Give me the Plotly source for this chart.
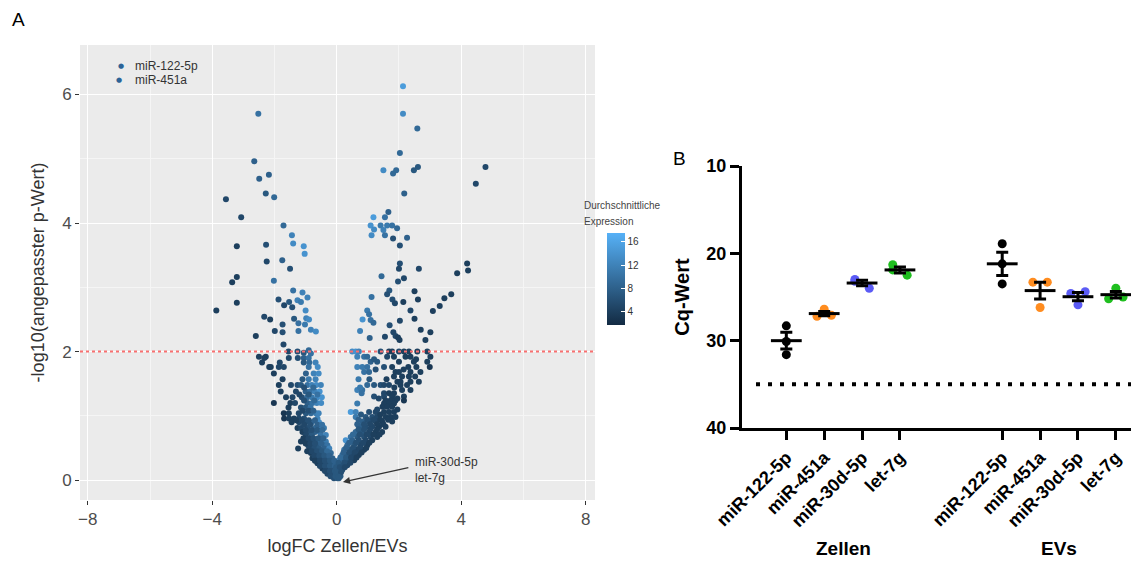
import numpy as np
import plotly.graph_objects as go

# ---------------- Panel A: volcano data ----------------
logfc = [
    # upper points
    2.13, -2.52, 2.13, 2.59, 2.03, -2.65, -2.49, -2.18, -2.28, -2.01, -3.56, -3.07,
    1.50, 1.91, 1.81, 2.48, 2.61, 2.17, 4.47, 4.78, 1.18, 1.55, 1.66,
    1.09, 1.20, 1.41, 1.50, 1.62, 1.78, 1.94, 1.12, 1.55, 1.81, 2.26, 2.03,
    -1.71, -1.44, -1.40, -1.06, -1.03, -2.27, -3.21, -2.25, -1.75, -1.50, -3.21, -3.36, -2.02,
    -3.87, -3.21, -1.40, -1.10, -0.94, -1.87, -1.69, -1.53, -1.43, -1.26, -1.15, -1.00,
    -2.33, -2.14, -1.37, -0.98, -0.89, -1.74, -1.23, -1.02, -1.99, -1.74, -1.23, -0.83, -0.67, -2.60,
    # right middle
    2.03, 2.00, 2.64, 4.19, 4.22, 3.87, 1.44, 1.97, 2.16, 1.69, 1.62, 2.50, 3.68, 3.46, 3.31, 3.09,
    1.12, 1.79, 1.87, 2.14, 2.61, 2.37, 0.98, 1.04, 0.83, 1.09, 1.18, 1.70, 2.03, 2.50,
    0.75, 1.82, 1.89, 1.97, 2.02, 1.55, 1.06, 2.70, 3.01, 2.85,
    # left near threshold
    -2.50, -2.28, -1.71, -1.55, -1.26, -1.06, -0.90, -0.83,
    # left arm rows
    -2.33, -1.54, -1.25, -1.06, -0.90,
    -2.40, -1.83, -1.06, -0.88, -0.68,
    -2.17, -2.12, -1.86, -1.70, -0.90, -0.61,
    -2.02, -0.99, -0.74, -0.58,
    -1.74, -1.10, -0.90, -0.68,
    -1.86, -1.47, -1.26, -1.15, -0.94, -0.80, -0.66, -0.51,
    -1.80, -1.31, -1.00, -0.85, -0.70, -0.55,
    -1.63, -1.42, -1.12, -0.95, -0.80, -0.62, -0.48,
    -2.02, -1.49, -1.34, -0.94, -0.78, -0.64, -0.50,
    -1.55, -1.15, -1.00, -0.84,
    -1.70, -1.54, -1.22, -0.99, -0.83, -0.67, -0.58,
    -1.69, -1.53, -1.37, -1.21, -1.05, -0.62,
    -1.45, -1.21, -1.00, -0.80, -0.57,
    -1.26, -1.15, -0.94, -0.70, -0.51, -0.41,
    -1.10, -0.88, -0.70, -0.55,
    -0.99, -0.80, -0.51, -0.35,
    -1.15, -0.99, -0.83, -0.67, -0.51, -0.35,
    -0.92, -0.78, -0.62, -0.40, -0.30,
    -1.24, -0.88, -0.72, -0.56, -0.40, -0.24,
    -0.83, -0.67, -0.51, -0.35, -0.19,
    -0.78, -0.62, -0.46, -0.30, -0.14,
    -0.62, -0.46, -0.30, -0.14, -0.03,
    -0.46, -0.30, -0.14, 0.02,
    -0.30, -0.14, 0.02,
    -0.09, 0.07,
    # right arm rows
    0.50, 0.61, 0.71, 1.41, 1.68, 1.78, 2.00, 2.16, 2.32, 2.59, 2.91,
    0.66, 0.88, 0.98, 1.62, 1.84, 2.21, 2.37, 3.01,
    1.09, 1.30, 2.00, 2.48, 2.91,
    0.66, 0.82, 0.98, 1.52, 1.78, 2.30, 2.56, 2.99,
    0.88, 1.04, 1.89, 2.00, 2.37, 2.69,
    1.84, 2.10, 2.32, 2.52,
    1.95, 2.05, 2.37, 2.64,
    0.98, 1.20, 1.41, 1.52, 1.68, 2.05, 2.26,
    0.66, 0.82, 2.10, 2.37,
    0.80, 1.52, 1.68, 1.84,
    1.20, 1.52, 1.78, 2.16,
    1.57, 1.73, 1.89, 2.16,
    0.66, 1.52, 1.68, 1.84,
    1.47, 1.62, 1.78,
    0.45, 0.61, 1.04, 1.25, 1.52, 1.68, 1.84,
    0.61, 0.93, 1.14, 1.30, 1.57, 1.73, 1.89,
    0.82, 1.04, 1.25, 1.46, 1.78,
    0.77, 0.93, 1.14, 1.36, 1.57,
    0.61, 0.82, 1.04, 1.25, 1.46,
    0.45, 0.66, 0.88, 1.09, 1.30,
    0.29, 0.50, 0.71, 0.93, 1.14,
    0.34, 0.56, 0.77, 0.98,
    0.24, 0.45, 0.66, 0.88,
    0.18, 0.34, 0.50, 0.71,
    0.07, 0.24, 0.40, 0.56,
    0.02, 0.18, 0.34,
    0.02, 0.18,
    -0.04, 0.08,
    0.02,
    # additional left arm points (filling the dense wedge)
    -1.05, -0.75,
    -1.20, -0.90, -0.62,
    -1.05, -0.72,
    -1.10, -0.90, -0.75,
    -1.30, -1.12, -0.90, -0.70,
    -1.05, -0.85, -0.62, -0.47,
    -1.00, -0.80, -0.62, -0.46,
    -1.07, -0.91, -0.75, -0.59, -0.43,
    -1.00, -0.85, -0.70, -0.50,
    -0.95, -0.80, -0.63, -0.47, -0.31,
    -0.72, -0.56, -0.40, -0.24,
    -0.70, -0.54, -0.38, -0.22, -0.08,
    -0.54, -0.38, -0.22, -0.06,
    -0.38, -0.22, -0.06, 0.08,
    -0.20, -0.04, 0.12,
    # additional right arm points
    0.78, 1.40,
    0.70, 0.98, 1.18, 1.40, 1.65,
    0.66, 0.88, 1.08, 1.30, 1.50,
    0.70, 0.88, 1.08, 1.30,
    0.52, 0.74, 0.96, 1.18, 1.38,
    0.40, 0.62, 0.85, 1.05,
    0.30, 0.52, 0.74, 0.95,
    0.22, 0.40, 0.58, 0.80,
    0.12, 0.30, 0.46, 0.64,
    0.06, 0.24, 0.44,
    -0.02, 0.10, 0.26,
    0.00, 0.14,
    0.06,
    1.30, 1.95,
    1.35, 1.95,
    0.75, 1.85,
    0.70, 1.05, 1.60,
    1.25, 2.15,
    1.20, 2.55,
]

neg_log10_padj = [
    6.13, 5.70, 5.70, 5.47, 5.09, 4.96, 4.69, 4.75, 4.46, 4.40, 4.37, 4.09,
    4.82, 4.82, 4.77, 4.82, 4.87, 4.46, 4.61, 4.87, 4.09, 4.09, 4.17,
    3.96, 3.90, 3.96, 3.89, 3.96, 3.96, 3.92, 3.81, 3.81, 3.76, 3.77, 3.65,
    3.96, 3.81, 3.68, 3.64, 3.52, 3.66, 3.64, 3.40, 3.42, 3.29, 3.16, 3.08, 3.10,
    2.64, 2.76, 2.95, 2.92, 2.84, 2.81, 2.72, 2.77, 2.69, 2.80, 2.77, 2.64,
    2.54, 2.50, 2.51, 2.52, 2.50, 2.42, 2.44, 2.42, 2.32, 2.30, 2.32, 2.34, 2.31, 2.24,
    3.37, 3.29, 3.29, 3.37, 3.26, 3.22, 3.17, 3.09, 3.14, 2.95, 2.89, 2.94, 2.89, 2.83, 2.71, 2.63,
    2.85, 2.81, 2.75, 2.77, 2.81, 2.64, 2.64, 2.58, 2.50, 2.49, 2.45, 2.41, 2.48, 2.51,
    2.32, 2.30, 2.24, 2.22, 2.18, 2.23, 2.21, 2.34, 2.30, 2.18,
    1.92, 1.92, 2.11, 2.00, 2.00, 1.98, 2.02, 1.97,
    1.90, 1.90, 1.90, 1.90, 1.90,
    1.83, 1.83, 1.83, 1.83, 1.83,
    1.76, 1.76, 1.76, 1.76, 1.76, 1.76,
    1.66, 1.66, 1.66, 1.66,
    1.57, 1.57, 1.57, 1.57,
    1.48, 1.48, 1.48, 1.48, 1.48, 1.48, 1.48, 1.48,
    1.38, 1.38, 1.38, 1.38, 1.38, 1.38,
    1.29, 1.29, 1.29, 1.29, 1.29, 1.29, 1.29,
    1.20, 1.20, 1.20, 1.20, 1.20, 1.20, 1.20,
    1.13, 1.13, 1.13, 1.13,
    1.04, 1.04, 1.04, 1.04, 1.04, 1.04, 1.04,
    0.96, 0.96, 0.96, 0.96, 0.96, 0.96,
    0.90, 0.90, 0.90, 0.90, 0.90,
    0.81, 0.81, 0.81, 0.81, 0.81, 0.81,
    0.75, 0.75, 0.75, 0.75,
    0.70, 0.70, 0.70, 0.70,
    0.60, 0.60, 0.60, 0.60, 0.60, 0.60,
    0.54, 0.54, 0.54, 0.54, 0.54,
    0.49, 0.49, 0.49, 0.49, 0.49, 0.49,
    0.42, 0.42, 0.42, 0.42, 0.42,
    0.34, 0.34, 0.34, 0.34, 0.34,
    0.26, 0.26, 0.26, 0.26, 0.26,
    0.18, 0.18, 0.18, 0.18,
    0.10, 0.10, 0.10,
    0.03, 0.03,
    2.00, 2.00, 2.00, 2.00, 2.00, 2.00, 2.00, 2.00, 2.00, 2.00, 2.00,
    1.92, 1.92, 1.92, 1.92, 1.92, 1.92, 1.92, 1.92,
    1.84, 1.84, 1.84, 1.84, 1.84,
    1.76, 1.76, 1.76, 1.76, 1.76, 1.76, 1.76, 1.76,
    1.68, 1.68, 1.68, 1.68, 1.68, 1.68,
    1.61, 1.61, 1.61, 1.61,
    1.53, 1.53, 1.53, 1.53,
    1.48, 1.48, 1.48, 1.48, 1.48, 1.48, 1.48,
    1.40, 1.40, 1.40, 1.40,
    1.35, 1.35, 1.35, 1.35,
    1.30, 1.30, 1.30, 1.30,
    1.24, 1.24, 1.24, 1.24,
    1.19, 1.19, 1.19, 1.19,
    1.14, 1.14, 1.14,
    1.06, 1.06, 1.06, 1.06, 1.06, 1.06, 1.06,
    0.98, 0.98, 0.98, 0.98, 0.98, 0.98, 0.98,
    0.91, 0.91, 0.91, 0.91, 0.91,
    0.83, 0.83, 0.83, 0.83, 0.83,
    0.75, 0.75, 0.75, 0.75, 0.75,
    0.67, 0.67, 0.67, 0.67, 0.67,
    0.62, 0.62, 0.62, 0.62, 0.62,
    0.54, 0.54, 0.54, 0.54,
    0.47, 0.47, 0.47, 0.47,
    0.39, 0.39, 0.39, 0.39,
    0.31, 0.31, 0.31, 0.31,
    0.23, 0.23, 0.23,
    0.16, 0.16,
    0.08, 0.08,
    0.03,
    # additional left
    1.44, 1.44,
    1.33, 1.33, 1.33,
    1.24, 1.24,
    1.08, 1.08, 1.08,
    0.93, 0.93, 0.93, 0.93,
    0.86, 0.86, 0.86, 0.86,
    0.78, 0.78, 0.78, 0.78,
    0.65, 0.65, 0.65, 0.65, 0.65,
    0.57, 0.57, 0.57, 0.57,
    0.45, 0.45, 0.45, 0.45, 0.45,
    0.38, 0.38, 0.38, 0.38,
    0.30, 0.30, 0.30, 0.30, 0.30,
    0.22, 0.22, 0.22, 0.22,
    0.14, 0.14, 0.14, 0.14,
    0.06, 0.06, 0.06,
    # additional right
    1.02, 1.02,
    0.94, 0.94, 0.94, 0.94, 0.94,
    0.87, 0.87, 0.87, 0.87, 0.87,
    0.79, 0.79, 0.79, 0.79,
    0.71, 0.71, 0.71, 0.71, 0.71,
    0.58, 0.58, 0.58, 0.58,
    0.50, 0.50, 0.50, 0.50,
    0.43, 0.43, 0.43, 0.43,
    0.35, 0.35, 0.35, 0.35,
    0.27, 0.27, 0.27,
    0.20, 0.20, 0.20,
    0.12, 0.12,
    0.05,
    1.10, 1.10,
    1.27, 1.27,
    1.44, 1.44,
    1.57, 1.57, 1.57,
    1.72, 1.72,
    1.88, 1.88,
]

avg_expr = [
    15, 10, 13, 9, 9, 8, 8, 8, 7, 9, 5, 5,
    13, 9, 9, 7, 7, 8, 5, 5, 15, 10, 8,
    14, 13, 11, 12, 11, 10, 9, 13, 10, 6, 8, 6,
    9, 12, 13, 14, 14, 6, 4, 5, 8, 6, 4, 4, 10,
    4, 4, 10, 12, 12, 6, 5, 7, 6, 12, 11, 13,
    5, 4, 7, 12, 13, 6, 10, 11, 5, 6, 10, 12, 13, 4,
    6, 5, 5, 4, 4, 4, 9, 6, 5, 7, 6, 4, 4, 4, 4, 4,
    10, 6, 5, 4, 4, 5, 11, 10, 14, 10, 9, 6, 5, 4,
    12, 5, 5, 4, 4, 5, 8, 4, 4, 4,
    4, 4, 5, 5, 6, 7, 9, 10,
    4, 5, 6, 8, 10,
    4, 5, 7, 9, 12,
    4, 4, 5, 5, 10, 13,
    4, 8, 12, 13,
    4, 7, 11, 12,
    4, 5, 6, 7, 10, 12, 13, 12,
    4, 5, 8, 10, 12, 14,
    4, 5, 6, 9, 11, 13, 14,
    3, 4, 5, 8, 10, 12, 13,
    4, 6, 7, 10,
    3, 4, 5, 7, 9, 11, 12,
    3, 4, 4, 5, 6, 12,
    4, 5, 6, 9, 13,
    4, 5, 6, 9, 12, 11,
    4, 6, 8, 10,
    5, 7, 10, 12,
    4, 5, 6, 7, 9, 11,
    5, 6, 7, 9, 10,
    4, 5, 6, 7, 8, 12,
    4, 5, 6, 7, 9,
    4, 5, 6, 7, 8,
    4, 5, 6, 7, 8,
    4, 5, 6, 7,
    5, 6, 7,
    6, 7,
    13, 14, 12, 6, 4, 4, 5, 4, 4, 4, 4,
    12, 10, 9, 5, 4, 4, 4, 4,
    8, 7, 4, 4, 4,
    12, 11, 10, 6, 4, 4, 4, 3,
    10, 9, 4, 4, 4, 4,
    4, 4, 4, 4,
    4, 4, 4, 4,
    9, 7, 6, 5, 5, 4, 4,
    12, 10, 4, 4,
    10, 5, 4, 4,
    6, 5, 4, 4,
    4, 4, 4, 3,
    11, 4, 4, 4,
    4, 4, 4,
    15, 12, 6, 5, 4, 4, 4,
    11, 7, 6, 5, 4, 4, 4,
    8, 6, 5, 4, 4,
    8, 6, 5, 4, 4,
    9, 7, 5, 4, 4,
    10, 7, 6, 5, 4,
    14, 8, 6, 5, 4,
    9, 7, 5, 4,
    10, 7, 5, 4,
    9, 7, 5, 4,
    12, 8, 6, 4,
    8, 7, 5,
    8, 6,
    7, 6,
    7,
    # additional left
    6, 9,
    5, 7, 10,
    6, 9,
    5, 6, 8,
    4, 5, 6, 8,
    5, 6, 8, 10,
    5, 6, 7, 9,
    4, 5, 6, 7, 8,
    4, 5, 6, 8,
    4, 5, 6, 7, 9,
    5, 6, 7, 8,
    4, 5, 6, 7, 8,
    5, 6, 7, 8,
    5, 6, 7, 7,
    6, 7, 7,
    # additional right
    7, 4,
    8, 6, 5, 4, 4,
    8, 6, 5, 4, 4,
    7, 6, 5, 4,
    9, 6, 5, 4, 4,
    8, 6, 5, 4,
    8, 6, 5, 4,
    8, 6, 5, 4,
    9, 7, 5, 4,
    7, 6, 5,
    7, 6, 5,
    7, 6,
    7,
    5, 4,
    5, 4,
    11, 4,
    11, 7, 4,
    6, 4,
    7, 4,
]

legend_labels = ["miR-122-5p", "miR-451a"]
arrow_label = "miR-30d-5p<br>let-7g"
x_ticks_a = [-8, -4, 0, 4, 8]
y_ticks_a = [0, 2, 4, 6]
padj_threshold = 2
cbar_ticks = [4, 8, 12, 16]

# ---------------- Panel B: Cq values ----------------
mirnas = ["miR-122-5p", "miR-451a", "miR-30d-5p", "let-7g"]
groups = ["Zellen", "EVs"]
cq_zellen = [
    [28.3, 30.1, 31.6],
    [27.2, 26.4, 27.1],
    [23.0, 24.0, 23.2],
    [21.3, 22.5, 21.9],
]
cq_evs = [
    [18.9, 21.2, 23.5],
    [23.3, 26.2, 23.3],
    [24.6, 25.9, 24.4],
    [25.2, 24.0, 25.0],
]
detection_limit = 35
y_ticks_b = [10, 20, 30, 40]

mirna_colors = ["#000000", "#FF8C1F", "#5B5BF5", "#1FBF1F"]
group_pos = [[0, 1, 2, 3], [5.7, 6.7, 7.7, 8.7]]
jitter = [[0, 0, 0], [-0.19, 0, 0.19], [-0.19, 0.19, -0.19], [-0.19, 0.19, -0.19]]
jitter_evs = [[0, 0, 0], [-0.19, 0, 0.19], [-0.19, 0, 0.19], [-0.19, 0, 0.19]]

W, H = 1135, 562
FONT = "Liberation Sans, Arial, sans-serif"

fig = go.Figure()

fig.add_trace(go.Scatter(
    x=logfc, y=neg_log10_padj, mode="markers", xaxis="x", yaxis="y",
    showlegend=False, hoverinfo="skip",
    marker=dict(size=6, color=avg_expr, cmin=1.7, cmax=17.5,
                colorscale=[[0, "#132B43"], [1, "#56B1F7"]],
                line=dict(width=0),
                colorbar=dict(x=607 / W, xanchor="left", y=1 - 279 / H, yanchor="middle",
                              len=92, lenmode="pixels", thickness=18, thicknessmode="pixels",
                              tickvals=cbar_ticks, ticks="inside", tickcolor="white", ticklen=4,
                              tickfont=dict(size=10, color="#333333", family=FONT),
                              outlinewidth=0, xpad=0, ypad=0, title=dict(text=""))),
))

cq_all = [cq_zellen, cq_evs]
jit_all = [jitter, jitter_evs]
for gi, g in enumerate(groups):
    for mi, m in enumerate(mirnas):
        vals = cq_all[gi][mi]
        xs = [group_pos[gi][mi] + j for j in jit_all[gi][mi]]
        fig.add_trace(go.Scatter(x=xs, y=vals, mode="markers", xaxis="x2", yaxis="y2",
                                 showlegend=False, hoverinfo="skip",
                                 marker=dict(size=9, color=mirna_colors[mi])))
for gi, g in enumerate(groups):
    for mi, m in enumerate(mirnas):
        vals = np.array(cq_all[gi][mi])
        mean = vals.mean()
        sem = vals.std(ddof=1) / np.sqrt(len(vals))
        fig.add_trace(go.Scatter(x=[group_pos[gi][mi]], y=[mean], mode="markers",
                                 xaxis="x2", yaxis="y2", showlegend=False, hoverinfo="skip",
                                 marker=dict(symbol="line-ew", size=22,
                                             line=dict(width=3, color="black")),
                                 error_y=dict(type="data", array=[sem], thickness=3,
                                              width=6, color="black")))

# Layout
tick_a_font = dict(size=17, color="#4D4D4D", family=FONT)
title_a_font = dict(size=18, color="#333333", family=FONT)
bold_font = dict(size=18, color="black", family=FONT, weight="bold")

fig.update_layout(
    width=W, height=H, autosize=False,
    margin=dict(l=0, r=0, t=0, b=0, autoexpand=False),
    paper_bgcolor="white", plot_bgcolor="white",
    font=dict(family=FONT), showlegend=False,
    xaxis=dict(domain=[80 / W, 595 / W], range=[-8.25, 8.3], tickvals=x_ticks_a,
               showgrid=True, gridcolor="white", gridwidth=1.3, zeroline=False,
               minor=dict(tickvals=[-6, -2, 2, 6], showgrid=True, gridcolor="#F5F5F5",
                          gridwidth=0.6, ticks=""),
               ticks="outside", ticklen=4, tickwidth=1, tickcolor="#333333",
               tickfont=tick_a_font, showline=False, automargin=False,
               title=dict(text="logFC Zellen/EVs", font=title_a_font, standoff=10),
               anchor="y"),
    yaxis=dict(domain=[1 - 500 / H, 1 - 45 / H], range=[-0.31, 6.77], tickvals=y_ticks_a,
               showgrid=True, gridcolor="white", gridwidth=1.3, zeroline=False,
               minor=dict(tickvals=[1, 3, 5], showgrid=True, gridcolor="#F5F5F5",
                          gridwidth=0.6, ticks=""),
               ticks="outside", ticklen=4, tickwidth=1, tickcolor="#333333",
               tickfont=tick_a_font, showline=False, automargin=False,
               title=dict(text="-log10(angepasster p-Wert)", font=title_a_font, standoff=12),
               anchor="x"),
    xaxis2=dict(domain=[742 / W, 1131 / W], range=[-1.17, 9.1],
                tickvals=group_pos[0] + group_pos[1], ticktext=mirnas + mirnas,
                tickangle=-45, ticks="outside", ticklen=9, tickwidth=3, tickcolor="black",
                showline=True, linewidth=3, linecolor="black", showgrid=False, zeroline=False,
                tickfont=dict(size=18, color="black", family=FONT, weight="bold"),
                automargin=False, anchor="y2"),
    yaxis2=dict(domain=[1 - 428 / H, 1 - 166 / H], range=[40, 10], tickvals=y_ticks_b,
                ticks="outside", ticklen=9, tickwidth=3, tickcolor="black",
                showline=True, linewidth=3, linecolor="black", showgrid=False, zeroline=False,
                tickfont=bold_font, automargin=False,
                title=dict(text="Cq-Wert", font=dict(size=20, color="black", family=FONT,
                                                      weight="bold"), standoff=12),
                anchor="x2"),
)

fig.add_shape(type="rect", xref="x domain", yref="y domain", x0=0, x1=1, y0=0, y1=1,
              fillcolor="#EBEBEB", line=dict(width=0), layer="below")
fig.add_shape(type="line", xref="x domain", yref="y", x0=0, x1=1,
              y0=padj_threshold, y1=padj_threshold,
              line=dict(color="#F77070", width=2, dash="dot"))
fig.add_shape(type="line", xref="x2", yref="y2", x0=-0.8, x1=9.1,
              y0=detection_limit, y1=detection_limit,
              line=dict(color="black", width=4, dash="4px,8px"))

# legend-like labels (top-left of panel A)
for i, lab in enumerate(legend_labels):
    ypx = 66 + 14 * i
    fig.add_annotation(x=(121 - 2 * i) / W, y=1 - ypx / H, xref="paper", yref="paper",
                       text="●", showarrow=False, xanchor="center", yanchor="middle",
                       font=dict(size=7, color="#2C6397", family="DejaVu Sans"))
    fig.add_annotation(x=133 / W, y=1 - ypx / H, xref="paper", yref="paper",
                       text=lab, showarrow=False, xanchor="left", yanchor="middle",
                       font=dict(size=12, color="#333333", family=FONT))

fig.add_annotation(x=0.2, y=-0.03, ax=2.35, ay=0.2, xref="x", yref="y", axref="x", ayref="y",
                   text="", showarrow=True, arrowhead=2, arrowsize=1.1, arrowwidth=1.3,
                   arrowcolor="#333333")
fig.add_annotation(x=2.45, y=0.16, xref="x", yref="y", text=arrow_label, showarrow=False,
                   xanchor="left", yanchor="middle", align="left",
                   font=dict(size=12, color="#333333", family=FONT))

fig.add_annotation(x=582 / W, y=1 - 205 / H, xref="paper", yref="paper",
                   text="Durchschnittliche", showarrow=False, xanchor="left", yanchor="middle",
                   font=dict(size=10, color="#444444", family=FONT))
fig.add_annotation(x=582 / W, y=1 - 221 / H, xref="paper", yref="paper",
                   text="Expression", showarrow=False, xanchor="left", yanchor="middle",
                   font=dict(size=10, color="#444444", family=FONT))

for gi, g in enumerate(groups):
    fig.add_annotation(x=float(np.mean(group_pos[gi])), y=1 - 548 / H, xref="x2", yref="paper",
                       text=g, showarrow=False, xanchor="center", yanchor="middle",
                       font=dict(size=19, color="black", family=FONT, weight="bold"))

fig.add_annotation(x=18 / W, y=1 - 20 / H, xref="paper", yref="paper", text="A",
                   showarrow=False, xanchor="center", yanchor="middle",
                   font=dict(size=19, color="black", family=FONT))
fig.add_annotation(x=679 / W, y=1 - 158 / H, xref="paper", yref="paper", text="B",
                   showarrow=False, xanchor="center", yanchor="middle",
                   font=dict(size=19, color="black", family=FONT))

fig.write_html("out.html")
